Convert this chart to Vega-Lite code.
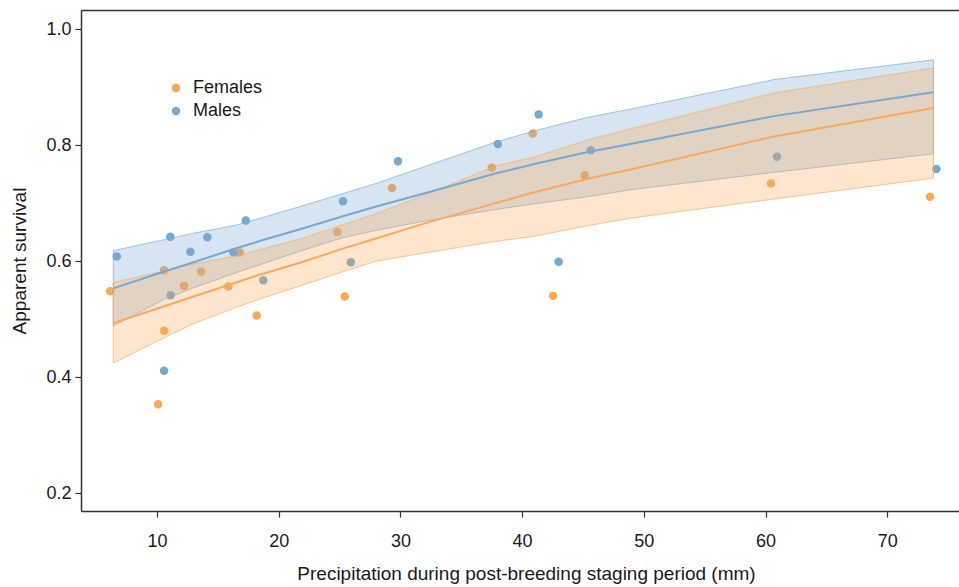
{
  "$schema": "https://vega.github.io/schema/vega-lite/v6.json",
  "autosize": {"type": "none"},
  "width": 878,
  "height": 501,
  "padding": {"left": 81, "top": 10, "right": 0, "bottom": 76},
  "background": "white",
  "config": {
    "view": {"stroke": null},
    "font": "Liberation Sans",
    "axis": {
      "domainColor": "#333333",
      "domainWidth": 1.5,
      "tickColor": "#333333",
      "tickWidth": 1.2,
      "tickSize": 6,
      "grid": false,
      "labelFont": "Liberation Sans",
      "labelFontSize": 18,
      "labelColor": "#1a1a1a",
      "titleFont": "Liberation Sans",
      "titleFontSize": 19,
      "titleFontWeight": "normal",
      "titleColor": "#1a1a1a"
    },
    "legend": {
      "labelFont": "Liberation Sans",
      "labelFontSize": 18,
      "labelColor": "#1a1a1a"
    }
  },
  "datasets": {
    "pts": [
      {"precip": 6.14, "survival": 0.548, "sex": "Females"},
      {"precip": 10.08, "survival": 0.353, "sex": "Females"},
      {"precip": 10.58, "survival": 0.584, "sex": "Females"},
      {"precip": 10.58, "survival": 0.480, "sex": "Females"},
      {"precip": 12.22, "survival": 0.557, "sex": "Females"},
      {"precip": 13.62, "survival": 0.582, "sex": "Females"},
      {"precip": 15.86, "survival": 0.556, "sex": "Females"},
      {"precip": 16.8, "survival": 0.615, "sex": "Females"},
      {"precip": 18.19, "survival": 0.506, "sex": "Females"},
      {"precip": 24.82, "survival": 0.650, "sex": "Females"},
      {"precip": 25.42, "survival": 0.539, "sex": "Females"},
      {"precip": 29.31, "survival": 0.726, "sex": "Females"},
      {"precip": 37.5, "survival": 0.761, "sex": "Females"},
      {"precip": 40.87, "survival": 0.820, "sex": "Females"},
      {"precip": 42.54, "survival": 0.540, "sex": "Females"},
      {"precip": 45.14, "survival": 0.748, "sex": "Females"},
      {"precip": 60.45, "survival": 0.734, "sex": "Females"},
      {"precip": 73.52, "survival": 0.711, "sex": "Females"},
      {"precip": 6.69, "survival": 0.608, "sex": "Males"},
      {"precip": 10.58, "survival": 0.411, "sex": "Males"},
      {"precip": 11.09, "survival": 0.642, "sex": "Males"},
      {"precip": 11.12, "survival": 0.541, "sex": "Males"},
      {"precip": 12.74, "survival": 0.616, "sex": "Males"},
      {"precip": 14.13, "survival": 0.641, "sex": "Males"},
      {"precip": 16.27, "survival": 0.615, "sex": "Males"},
      {"precip": 17.29, "survival": 0.670, "sex": "Males"},
      {"precip": 18.73, "survival": 0.567, "sex": "Males"},
      {"precip": 25.28, "survival": 0.703, "sex": "Males"},
      {"precip": 25.92, "survival": 0.598, "sex": "Males"},
      {"precip": 29.8, "survival": 0.772, "sex": "Males"},
      {"precip": 38.0, "survival": 0.802, "sex": "Males"},
      {"precip": 41.36, "survival": 0.853, "sex": "Males"},
      {"precip": 43.0, "survival": 0.599, "sex": "Males"},
      {"precip": 45.64, "survival": 0.791, "sex": "Males"},
      {"precip": 60.95, "survival": 0.780, "sex": "Males"},
      {"precip": 74.04, "survival": 0.759, "sex": "Males"}
    ],
    "fit": [
      {"precip": 6.4, "sex": "Males", "mean": 0.553, "lo": 0.488, "hi": 0.618},
      {"precip": 10.6, "sex": "Males", "mean": 0.582, "lo": 0.534, "hi": 0.637},
      {"precip": 13, "sex": "Males", "mean": 0.598, "lo": 0.554, "hi": 0.648},
      {"precip": 16.5, "sex": "Males", "mean": 0.622, "lo": 0.580, "hi": 0.662},
      {"precip": 18.5, "sex": "Males", "mean": 0.635, "lo": 0.594, "hi": 0.674},
      {"precip": 21.75, "sex": "Males", "mean": 0.655, "lo": 0.617, "hi": 0.694},
      {"precip": 25.2, "sex": "Males", "mean": 0.677, "lo": 0.640, "hi": 0.716},
      {"precip": 28, "sex": "Males", "mean": 0.694, "lo": 0.653, "hi": 0.734},
      {"precip": 32, "sex": "Males", "mean": 0.717, "lo": 0.669, "hi": 0.763},
      {"precip": 37.8, "sex": "Males", "mean": 0.751, "lo": 0.689, "hi": 0.805},
      {"precip": 41.1, "sex": "Males", "mean": 0.768, "lo": 0.699, "hi": 0.825},
      {"precip": 45.4, "sex": "Males", "mean": 0.788, "lo": 0.711, "hi": 0.848},
      {"precip": 48.9, "sex": "Males", "mean": 0.802, "lo": 0.723, "hi": 0.862},
      {"precip": 60.7, "sex": "Males", "mean": 0.850, "lo": 0.753, "hi": 0.913},
      {"precip": 73.8, "sex": "Males", "mean": 0.891, "lo": 0.785, "hi": 0.947},
      {"precip": 6.4, "sex": "Females", "mean": 0.493, "lo": 0.424, "hi": 0.563},
      {"precip": 10.6, "sex": "Females", "mean": 0.522, "lo": 0.468, "hi": 0.583},
      {"precip": 13, "sex": "Females", "mean": 0.539, "lo": 0.492, "hi": 0.595},
      {"precip": 16.5, "sex": "Females", "mean": 0.563, "lo": 0.520, "hi": 0.609},
      {"precip": 18.5, "sex": "Females", "mean": 0.577, "lo": 0.535, "hi": 0.620},
      {"precip": 21.75, "sex": "Females", "mean": 0.597, "lo": 0.557, "hi": 0.638},
      {"precip": 25.2, "sex": "Females", "mean": 0.621, "lo": 0.581, "hi": 0.662},
      {"precip": 28, "sex": "Females", "mean": 0.639, "lo": 0.600, "hi": 0.682},
      {"precip": 32, "sex": "Females", "mean": 0.665, "lo": 0.614, "hi": 0.714},
      {"precip": 37.8, "sex": "Females", "mean": 0.700, "lo": 0.634, "hi": 0.764},
      {"precip": 41.1, "sex": "Females", "mean": 0.719, "lo": 0.643, "hi": 0.780},
      {"precip": 45.4, "sex": "Females", "mean": 0.742, "lo": 0.661, "hi": 0.809},
      {"precip": 48.9, "sex": "Females", "mean": 0.758, "lo": 0.674, "hi": 0.828},
      {"precip": 60.7, "sex": "Females", "mean": 0.815, "lo": 0.707, "hi": 0.890},
      {"precip": 73.8, "sex": "Females", "mean": 0.864, "lo": 0.743, "hi": 0.933}
    ]
  },
  "resolve": {"axis": {"x": "independent"}},
  "layer": [
    {
      "data": {"name": "pts"},
      "mark": {"type": "point", "filled": true, "size": 72, "opacity": 1, "strokeWidth": 0},
      "encoding": {
        "x": {
          "field": "precip", "type": "quantitative",
          "scale": {"domain": [3.75, 75.9], "nice": false, "zero": false},
          "axis": {"orient": "top", "labels": false, "ticks": false, "title": null, "domain": true}
        },
        "y": {
          "field": "survival", "type": "quantitative",
          "scale": {"domain": [0.169, 1.033], "nice": false, "zero": false},
          "axis": {"values": [0.2, 0.4, 0.6, 0.8, 1.0], "format": ".1f", "title": "Apparent survival", "labelPadding": 4, "titlePadding": 16}
        },
        "color": {
          "field": "sex", "type": "nominal",
          "scale": {"domain": ["Females", "Males"], "range": ["#FAA85C", "#76A8D0"]},
          "legend": {
            "title": null, "orient": "none", "legendX": 86, "legendY": 69,
            "symbolType": "circle", "symbolSize": 72, "symbolOpacity": 1, "symbolStrokeWidth": 0,
            "labelOffset": 8, "rowPadding": 5, "padding": 0
          }
        }
      }
    },
    {
      "data": {"name": "fit"},
      "transform": [{"filter": "datum.sex === 'Males'"}],
      "mark": {"type": "area", "fillOpacity": 0.3, "strokeWidth": 1, "strokeOpacity": 0.65},
      "encoding": {
        "x": {
          "field": "precip", "type": "quantitative",
          "axis": {"values": [10, 20, 30, 40, 50, 60, 70], "title": "Precipitation during post-breeding staging period (mm)", "labelPadding": 15, "titlePadding": 14, "titleX": 445}
        },
        "y": {"field": "lo", "type": "quantitative"},
        "y2": {"field": "hi"},
        "color": {"field": "sex", "type": "nominal"},
        "stroke": {"field": "sex", "type": "nominal", "legend": null, "scale": {"domain": ["Females", "Males"], "range": ["#FAA85C", "#76A8D0"]}}
      }
    },
    {
      "data": {"name": "fit"},
      "transform": [{"filter": "datum.sex === 'Females'"}],
      "mark": {"type": "area", "fillOpacity": 0.3, "strokeWidth": 1, "strokeOpacity": 0.65},
      "encoding": {
        "x": {"field": "precip", "type": "quantitative", "axis": null},
        "y": {"field": "lo", "type": "quantitative"},
        "y2": {"field": "hi"},
        "color": {"field": "sex", "type": "nominal"},
        "stroke": {"field": "sex", "type": "nominal", "legend": null}
      }
    },
    {
      "data": {"name": "fit"},
      "mark": {"type": "line", "strokeWidth": 2},
      "encoding": {
        "x": {"field": "precip", "type": "quantitative", "axis": null},
        "y": {"field": "mean", "type": "quantitative"},
        "color": {"field": "sex", "type": "nominal"}
      }
    }
  ]
}
